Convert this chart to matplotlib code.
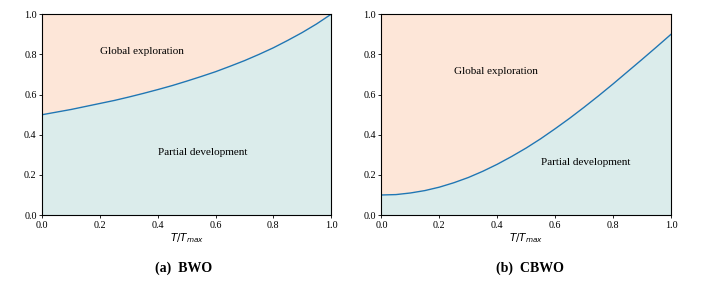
import numpy as np
import matplotlib
matplotlib.use('Agg')
import matplotlib.pyplot as plt

# values, x step 0.05
t = [0.00, 0.05, 0.10, 0.15, 0.20, 0.25, 0.30, 0.35, 0.40, 0.45, 0.50,
     0.55, 0.60, 0.65, 0.70, 0.75, 0.80, 0.85, 0.90, 0.95, 1.00]
bwo = [0.500, 0.513, 0.526, 0.541, 0.556, 0.571, 0.588, 0.606, 0.625, 0.645, 0.667,
       0.690, 0.714, 0.741, 0.769, 0.800, 0.833, 0.870, 0.909, 0.952, 1.000]
cbwo = [0.100, 0.102, 0.110, 0.122, 0.139, 0.161, 0.187, 0.218, 0.253, 0.292, 0.334,
        0.380, 0.430, 0.482, 0.537, 0.594, 0.653, 0.714, 0.775, 0.837, 0.900]

captions = ['(a)  BWO', '(b)  CBWO']
upper_label = 'Global exploration'
lower_label = 'Partial development'
upper_pos = [(0.345, 0.814), (0.397, 0.717)]
lower_pos = [(0.557, 0.312), (0.707, 0.262)]

serif = ['Liberation Serif', 'DejaVu Serif']
c_up = '#fde6d8'
c_low = '#dbeceb'

fig = plt.figure(figsize=(7.13, 2.86), dpi=100)
axes = [fig.add_axes([0.0593, 0.248, 0.405, 0.702]),
        fig.add_axes([0.535, 0.248, 0.406, 0.702])]

for i, (ax, y) in enumerate(zip(axes, [bwo, cbwo])):
    x = np.array(t)
    y = np.array(y)
    ax.fill_between(x, y, 1.0, color=c_up, lw=0)
    ax.fill_between(x, 0.0, y, color=c_low, lw=0)
    ax.plot(x, y, color='#1f77b4', lw=1.0)
    ax.set_xlim(0, 1)
    ax.set_ylim(0, 1)
    ax.set_xticks(np.arange(0, 1.01, 0.2))
    ax.set_yticks(np.arange(0, 1.01, 0.2))
    ax.set_xticklabels(['%.1f' % v for v in np.arange(0, 1.01, 0.2)], family=serif, fontsize=7.3)
    ax.set_yticklabels(['%.1f' % v for v in np.arange(0, 1.01, 0.2)], family=serif, fontsize=7.3)
    ax.tick_params(length=2.5, width=0.6, pad=1.5)
    for s in ax.spines.values():
        s.set_linewidth(0.8)
    ax.set_xlabel('$T/T_{max}$', fontsize=7.5, labelpad=1)
    ax.text(*upper_pos[i], upper_label, family=serif, fontsize=8, ha='center', va='center')
    ax.text(*lower_pos[i], lower_label, family=serif, fontsize=8, ha='center', va='center')

fig.text(0.258, 1 - 268 / 286, captions[0], family=serif, fontsize=10, fontweight='bold',
         ha='center', va='center')
fig.text(0.743, 1 - 268 / 286, captions[1], family=serif, fontsize=10, fontweight='bold',
         ha='center', va='center')

fig.savefig('out.png', dpi=100)
